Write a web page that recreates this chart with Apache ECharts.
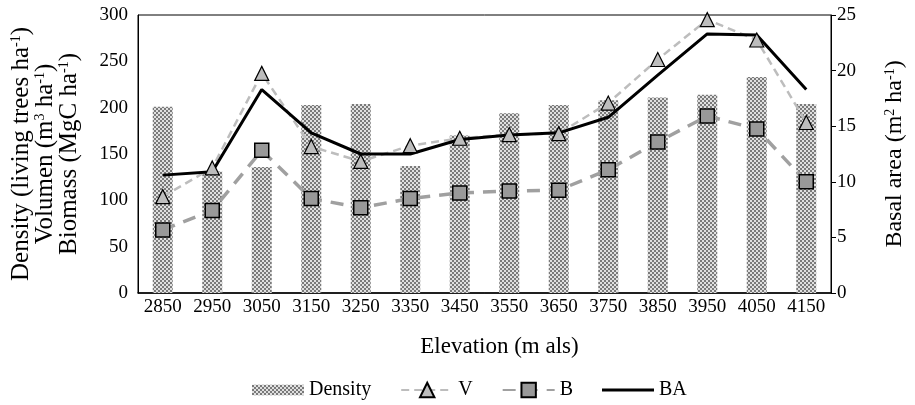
<!DOCTYPE html>
<html><head><meta charset="utf-8">
<script src="https://cdn.jsdelivr.net/npm/echarts@6/dist/echarts.min.js"></script>
<style>html,body{margin:0;padding:0;background:#fff}#c{width:915px;height:405px}</style>
</head><body><div id="c"></div>
<script>
var categories = ['2850','2950','3050','3150','3250','3350','3450','3550','3650','3750','3850','3950','4050','4150'];
var density = [201,131,136,203,204,137,170,194,203,208,211,214,233,204];
var volume  = [104,135,237,158,142,159,167,171,172,205,252,295,273,184];
var biomass = [68,89,154,102,92,102,108,110,111,133,163,191,177,120];
var basalArea = [10.6,10.9,18.3,14.4,12.5,12.5,13.8,14.2,14.4,15.8,19.6,23.3,23.2,18.3];

var cv = document.createElement('canvas'); cv.width = 4; cv.height = 4;
var cx = cv.getContext('2d');
cx.fillStyle = '#e0e0e0'; cx.fillRect(0,0,4,4);
cx.fillStyle = '#7a7a7a'; cx.fillRect(0,0,2,2); cx.fillRect(2,2,2,2);

var FONT = 'Liberation Serif';
var sup = {fontSize: 14, fontFamily: FONT, verticalAlign: 'top', lineHeight: 14, color: '#000'};
var chart = echarts.init(document.getElementById('c'));
chart.setOption({
  animation: false,
  textStyle: {fontFamily: FONT, color: '#000'},
  grid: {left: 138, right: 77, top: 15, bottom: 112, show: true, borderColor: '#000', borderWidth: 1},
  legend: {
    bottom: 0, left: 247, itemWidth: 52, itemHeight: 18, itemGap: 29,
    textStyle: {fontFamily: FONT, fontSize: 20, color: '#000'},
    data: [
      {name: 'Density', icon: 'path://M0,0h50v10h-50z'},
      'V', 'B',
      {name: 'BA', icon: 'path://M0,0h50v3h-50z'}
    ]
  },
  xAxis: {
    type: 'category', data: categories,
    name: 'Elevation (m als)', nameLocation: 'middle', nameGap: 42,
    nameTextStyle: {fontFamily: FONT, fontSize: 23, color: '#000', padding: [0, 0, 0, 30]},
    axisLine: {lineStyle: {color: '#000', width: 1.5}},
    axisTick: {show: false},
    axisLabel: {fontFamily: FONT, fontSize: 19, color: '#000', margin: 5}
  },
  yAxis: [{
    type: 'value', min: 0, max: 300, interval: 50,
    name: 'Density (living trees ha{s|-1})\nVolumen (m{s|3} ha{s|-1})\nBiomass (MgC ha{s|-1})',
    nameLocation: 'middle', nameRotate: 90, nameGap: 57,
    nameTextStyle: {fontFamily: FONT, fontSize: 25, color: '#000', lineHeight: 24, rich: {s: sup}},
    axisLine: {show: true, lineStyle: {color: '#000'}},
    axisTick: {show: false},
    splitLine: {show: false},
    axisLabel: {fontFamily: FONT, fontSize: 19, color: '#000', margin: 10}
  }, {
    type: 'value', min: 0, max: 25, interval: 5, position: 'right',
    name: 'Basal area (m{s|2} ha{s|-1})',
    nameLocation: 'middle', nameRotate: 90, nameGap: 52,
    nameTextStyle: {fontFamily: FONT, fontSize: 24, color: '#000', lineHeight: 24, rich: {s: sup}},
    axisLine: {show: true, lineStyle: {color: '#000'}},
    axisTick: {show: true, length: 5, lineStyle: {color: '#000'}},
    splitLine: {show: false},
    axisLabel: {fontFamily: FONT, fontSize: 19, color: '#000', margin: 6}
  }],
  series: [{
    name: 'Density', type: 'bar', data: density, barWidth: 20, yAxisIndex: 0,
    itemStyle: {color: {image: cv, repeat: 'repeat'}}
  }, {
    name: 'V', type: 'line', data: volume, yAxisIndex: 0,
    symbol: 'triangle', symbolSize: 14,
    lineStyle: {color: '#bdbdbd', width: 2.5, type: [8, 5]},
    itemStyle: {color: '#bdbdbd', borderColor: '#000', borderWidth: 1.2}
  }, {
    name: 'B', type: 'line', data: biomass, yAxisIndex: 0,
    symbol: 'rect', symbolSize: 14,
    lineStyle: {color: '#a0a0a0', width: 3.5, type: [13, 9]},
    itemStyle: {color: '#999', borderColor: '#000', borderWidth: 1.5}
  }, {
    name: 'BA', type: 'line', data: basalArea, yAxisIndex: 1,
    symbol: 'none', showSymbol: false,
    lineStyle: {color: '#000', width: 3},
    itemStyle: {color: '#000'}
  }]
});
</script></body></html>
